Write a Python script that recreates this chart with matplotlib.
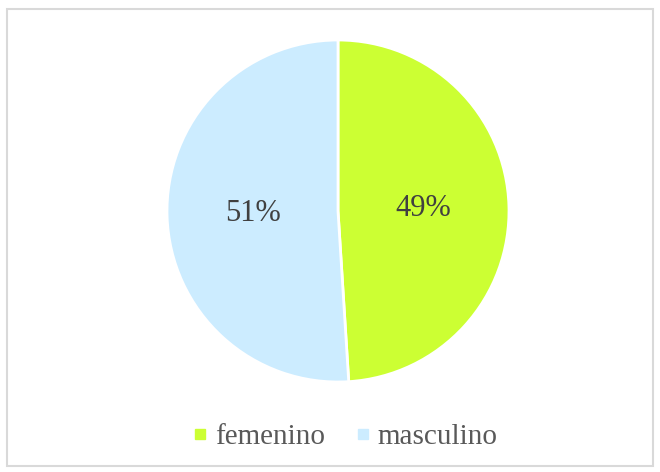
import matplotlib
matplotlib.use('Agg')
import matplotlib.pyplot as plt
from matplotlib.patches import Rectangle
from matplotlib.lines import Line2D

# Datos
categorias = ['femenino', 'masculino']
porcentajes = [49, 51]
colores = ['#CCFF33', '#CCECFF']

plt.rcParams['font.family'] = ['Liberation Serif', 'DejaVu Serif']

fig = plt.figure(figsize=(6.6, 4.72), dpi=100)

# Borde del gráfico
fig.patches.append(Rectangle((7 / 660, 1 - 466 / 472), 646 / 660, 457 / 472,
                             transform=fig.transFigure, fill=False,
                             edgecolor='#D9D9D9', linewidth=1.5))

ax = fig.add_axes([(338 - 171) / 660, 1 - (211 + 171) / 472, 342 / 660, 342 / 472])
wedges, textos, autotextos = ax.pie(
    porcentajes, colors=colores, startangle=90, counterclock=False,
    radius=1.25, autopct='%1.0f%%', pctdistance=0.5,
    wedgeprops=dict(edgecolor='white', linewidth=2),
    textprops=dict(color='#404040', fontsize=22))
ax.set_xlim(-1.25, 1.25)
ax.set_ylim(-1.25, 1.25)
ax.set_aspect('equal')

# Leyenda
handles = [Line2D([], [], marker='s', linestyle='', markersize=6.5,
                  markerfacecolor=c, markeredgecolor=c) for c in colores]
fig.legend(handles, categorias, loc='center', bbox_to_anchor=(0.52, 1 - 437 / 472),
           ncol=2, frameon=False, fontsize=21, labelcolor='#595959',
           handletextpad=0.1, columnspacing=0.9, handlelength=0.8)

plt.savefig('out.png', dpi=100)
